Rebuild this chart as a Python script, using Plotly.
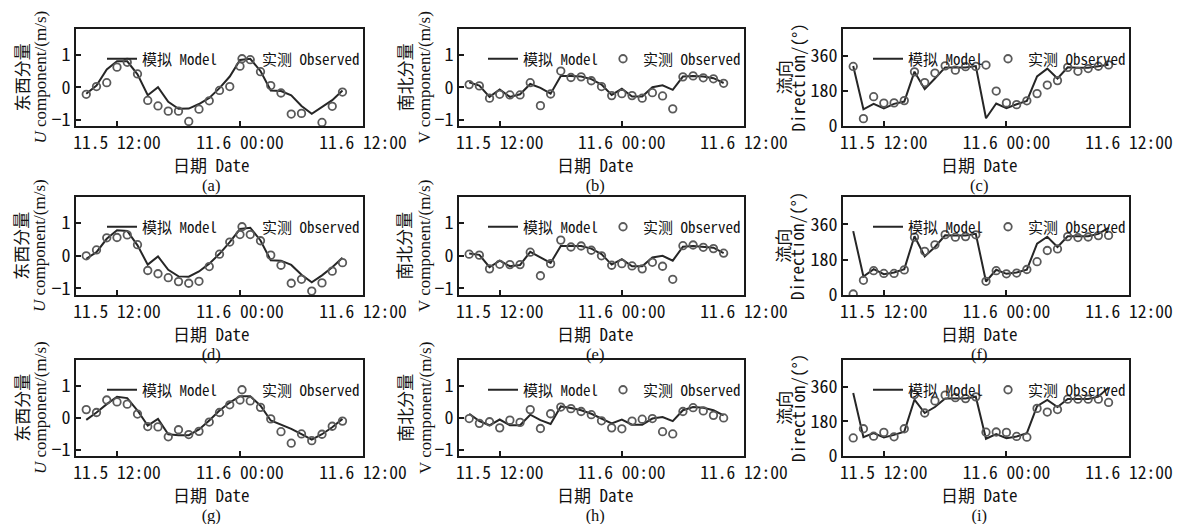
import plotly.graph_objects as go

# ---------------- data ----------------
HOURS = [9, 10, 11, 12, 13, 14, 15, 16, 17, 18, 19, 20, 21, 22, 23, 24,
         25, 26, 27, 28, 29, 30, 31, 32, 33, 34]
TICK_VALS = [12, 24, 36]
TICK_TEXT = ["11.5 12:00", "11.6 00:00", "11.6 12:00"]
PANEL_LABELS = ["(a)", "(b)", "(c)", "(d)", "(e)", "(f)", "(g)", "(h)", "(i)"]

U_MODEL_A = [-0.2, 0.05, 0.55, 0.8, 0.8, 0.4, -0.25, 0.0, -0.45, -0.67, -0.66, -0.52, -0.33,
             -0.03, 0.33, 0.84, 0.88, 0.5, -0.1, -0.12, -0.25, -0.58, -0.82, -0.62, -0.4, -0.1]
U_OBS_A = [-0.22, 0.02, 0.14, 0.62, 0.77, 0.41, -0.41, -0.58, -0.74, -0.74, -1.06, -0.68, -0.42,
           -0.10, 0.02, 0.65, 0.85, 0.48, 0.05, -0.18, -0.83, -0.81, None, -1.09, -0.59, -0.15]

V_MODEL_B = [0.15, 0.05, -0.3, -0.07, -0.3, -0.22, 0.1, -0.02, -0.2, 0.35, 0.35, 0.33, 0.25,
             0.08, -0.24, -0.05, -0.29, -0.29, 0.0, 0.06, -0.08, 0.33, 0.35, 0.33, 0.28, 0.13]
V_OBS_B = [0.08, 0.04, -0.34, -0.22, -0.24, -0.24, 0.14, -0.57, -0.21, 0.5, 0.3, 0.32, 0.2,
           0.02, -0.26, -0.2, -0.26, -0.34, -0.17, -0.27, -0.67, 0.32, 0.35, 0.29, 0.26, 0.12]

DIR_MODEL_C = [309, 86, 114, 91, 114, 126, 280, 190, 245, 302, 302, 302, 309,
               40, 116, 92, 112, 129, 256, 296, 245, 303, 300, 300, 308, 316]
DIR_OBS_C = [307, 38, 151, 118, 119, 131, 279, 224, 273, 310, 288, 306, 307,
             314, 180, 119, 110, 130, 167, 211, 234, 302, 282, 296, 308, 315]

U_MODEL_D = [-0.09, 0.11, 0.52, 0.78, 0.76, 0.32, -0.27, -0.02, -0.43, -0.63, -0.64, -0.48, -0.24,
             0.06, 0.42, 0.82, 0.86, 0.47, -0.14, -0.15, -0.28, -0.58, -0.81, -0.6, -0.35, -0.06]
U_OBS_D = [0.0, 0.18, 0.55, 0.56, 0.64, 0.34, -0.45, -0.55, -0.67, -0.79, -0.84, -0.78, -0.33,
           0.05, 0.42, 0.65, 0.65, 0.46, 0.02, -0.29, -0.84, -0.72, -1.08, -0.83, -0.47, -0.21]

V_MODEL_E = [0.07, 0.03, -0.35, -0.15, -0.32, -0.28, 0.12, -0.05, -0.22, 0.3, 0.3, 0.3, 0.22,
             0.05, -0.27, -0.1, -0.32, -0.32, -0.05, 0.0, -0.15, 0.28, 0.3, 0.28, 0.25, 0.08]
V_OBS_E = [0.05, 0.02, -0.4, -0.26, -0.27, -0.27, 0.11, -0.61, -0.24, 0.48, 0.27, 0.3, 0.17,
           0.0, -0.29, -0.24, -0.31, -0.4, -0.2, -0.32, -0.72, 0.31, 0.33, 0.26, 0.22, 0.08]

DIR_MODEL_F = [326, 94, 132, 106, 115, 132, 300, 197, 245, 305, 304, 304, 312,
               69, 129, 108, 115, 129, 262, 297, 245, 300, 300, 300, 312, 343]
DIR_OBS_F = [5, 75, 124, 110, 110, 128, 295, 223, 256, 308, 295, 298, 307,
             70, 124, 108, 112, 130, 170, 227, 235, 298, 293, 296, 303, 304]

U_MODEL_G = [-0.07, 0.16, 0.42, 0.65, 0.61, 0.22, -0.25, -0.04, -0.52, -0.55, -0.55, -0.37, -0.09,
             0.22, 0.47, 0.67, 0.67, 0.37, -0.09, -0.22, -0.35, -0.52, -0.69, -0.52, -0.3, -0.04]
U_OBS_G = [0.25, 0.16, 0.55, 0.49, 0.42, 0.11, -0.28, -0.29, -0.6, -0.38, -0.53, -0.43, -0.14,
           0.16, 0.4, 0.55, 0.52, 0.32, -0.04, -0.44, -0.8, -0.51, -0.72, -0.52, -0.27, -0.11]

V_MODEL_H = [0.12, -0.11, -0.24, -0.06, -0.24, -0.24, 0.09, -0.08, -0.2, 0.35, 0.3, 0.23, 0.12,
             -0.03, -0.18, -0.06, -0.22, -0.22, -0.03, 0.02, -0.11, 0.23, 0.33, 0.31, 0.23, 0.07]
V_OBS_H = [-0.03, -0.18, -0.13, -0.32, -0.08, -0.15, 0.25, -0.34, 0.12, 0.33, 0.28, 0.19, 0.09,
           -0.1, -0.32, -0.35, -0.11, -0.05, -0.03, -0.44, -0.51, 0.19, 0.31, 0.21, 0.07, -0.01]

DIR_MODEL_I = [328, 98, 119, 97, 110, 127, 294, 224, 255, 300, 300, 300, 309,
               90, 114, 93, 102, 119, 260, 292, 255, 297, 297, 297, 309, 357]
DIR_OBS_I = [94, 142, 103, 123, 100, 142, 320, 224, 287, 317, 304, 299, 308,
             124, 125, 123, 102, 98, 248, 229, 242, 296, 296, 296, 296, 279]

MODELS = [U_MODEL_A, V_MODEL_B, DIR_MODEL_C, U_MODEL_D, V_MODEL_E, DIR_MODEL_F,
          U_MODEL_G, V_MODEL_H, DIR_MODEL_I]
OBSERVED = [U_OBS_A, V_OBS_B, DIR_OBS_C, U_OBS_D, V_OBS_E, DIR_OBS_F,
            U_OBS_G, V_OBS_H, DIR_OBS_I]

# y-axis titles per column (line1 Chinese, line2 English)
Y_TITLE_1 = ["东西分量", "南北分量", "流向"]
Y_TITLE_2 = ["<i>U</i> component/(m/s)", "V component/(m/s)", "Direction/(°)"]

# ---------------- style ----------------
W, H = 1180, 524
MONO = "Noto Sans Mono CJK SC, Noto Sans CJK SC, DejaVu Sans Mono, monospace"
CJK_CSS = "Noto Sans CJK SC"
SERIF_CSS = "Liberation Serif"
MONO_CSS = "Noto Sans Mono CJK SC"
LINE_COLOR = "#262626"
MARK_COLOR = "#5a5a5a"
AX_COLOR = "#1a1a1a"

X_PIX = [(76, 363), (459, 744), (843, 1129)]
Y_PIX = [(29, 126), (197, 295), (360, 456)]
YT_SHIFT = [-47, -46, -53]
YT_BASE = [13.4, 14.6, 11.0]
XT_SHIFT = [-8, -6, -7]

fig = go.Figure()
layout = dict(
    width=W, height=H, autosize=False,
    margin=dict(l=0, r=0, t=0, b=0, pad=0, autoexpand=False),
    paper_bgcolor="white", plot_bgcolor="white",
    font=dict(family=MONO, size=17, color="#111111"),
    annotations=[],
)

for k in range(9):
    r, c = divmod(k, 3)
    n = k + 1
    xs = "" if n == 1 else str(n)
    lg = "legend" if n == 1 else f"legend{n}"
    fig.add_trace(go.Scatter(
        x=HOURS, y=MODELS[k], mode="lines", name="模拟 Model",
        line=dict(color=LINE_COLOR, width=2),
        xaxis=f"x{xs}", yaxis=f"y{xs}", legend=lg))
    fig.add_trace(go.Scatter(
        x=HOURS, y=OBSERVED[k], mode="markers", name="实测 Observed",
        marker=dict(symbol="circle-open", size=7.5, color=MARK_COLOR, line=dict(width=1.8)),
        xaxis=f"x{xs}", yaxis=f"y{xs}", legend=lg))

    x0, x1 = X_PIX[c]
    yt, yb = Y_PIX[r]
    xd = [x0 / W, x1 / W]
    yd = [1 - yb / H, 1 - yt / H]
    is_dir = (c == 2)
    layout[f"xaxis{xs}"] = dict(
        domain=xd, anchor=f"y{xs}", range=[8, 36], automargin=False,
        tickmode="array", tickvals=TICK_VALS, ticktext=TICK_TEXT,
        ticks="inside", ticklen=5, tickwidth=1.5, tickcolor=AX_COLOR,
        showline=True, linecolor=AX_COLOR, linewidth=1.6, mirror=True,
        showgrid=False, zeroline=False, tickfont=dict(family=MONO, size=17.5))
    layout[f"yaxis{xs}"] = dict(
        domain=yd, anchor=f"x{xs}", automargin=False,
        range=[0, 500] if is_dir else [-1.2, 1.8],
        tickmode="array", tickvals=[0, 180, 360] if is_dir else [-1, 0, 1],
        ticks="inside", ticklen=5, tickwidth=1.5, tickcolor=AX_COLOR,
        showline=True, linecolor=AX_COLOR, linewidth=1.6, mirror=True,
        showgrid=False, zeroline=False, tickfont=dict(family=MONO, size=18))
    layout[lg] = dict(
        orientation="h", x=(x1 + 2) / W, xanchor="right",
        y=1 - (yt + 30) / H, yanchor="middle",
        bgcolor="rgba(0,0,0,0)", borderwidth=0,
        font=dict(family=MONO, size=15), itemwidth=30, tracegroupgap=0)

    xref = f"x{xs} domain"
    yref = f"y{xs} domain"
    line2_font = MONO_CSS if is_dir else SERIF_CSS
    ytitle = (f"<span style='font-size:17px;font-family:{CJK_CSS}'>{Y_TITLE_1[c]}</span><br>"
              f"<span style='font-size:17px;font-family:{line2_font}'>{Y_TITLE_2[c]}</span>")
    xtitle = (f"<span style='font-size:17px'>日期 Date</span><br>"
              f"<span style='font-size:16.5px;font-family:{SERIF_CSS}'>{PANEL_LABELS[k]}</span>")
    layout["annotations"] += [
        dict(text=xtitle, xref=xref, yref=yref, x=0.5, y=0,
             xshift=XT_SHIFT[c], yshift=-47.6,
             xanchor="center", yanchor="middle", showarrow=False,
             font=dict(family=MONO, size=14.8)),
        dict(text=ytitle, xref=xref, yref=yref, x=0, y=0.5, xshift=YT_SHIFT[c],
             xanchor="center", yanchor="middle", textangle=-90, showarrow=False,
             font=dict(family=MONO, size=YT_BASE[c])),
    ]

fig.update_layout(**layout)
fig.write_html(
    "out.html", config={"displayModeBar": False},
    post_script=("document.documentElement.style.margin='0';"
                 "document.documentElement.style.overflow='hidden';"
                 "document.body.style.margin='0';document.body.style.padding='0';"
                 "document.body.style.overflow='hidden';"))
